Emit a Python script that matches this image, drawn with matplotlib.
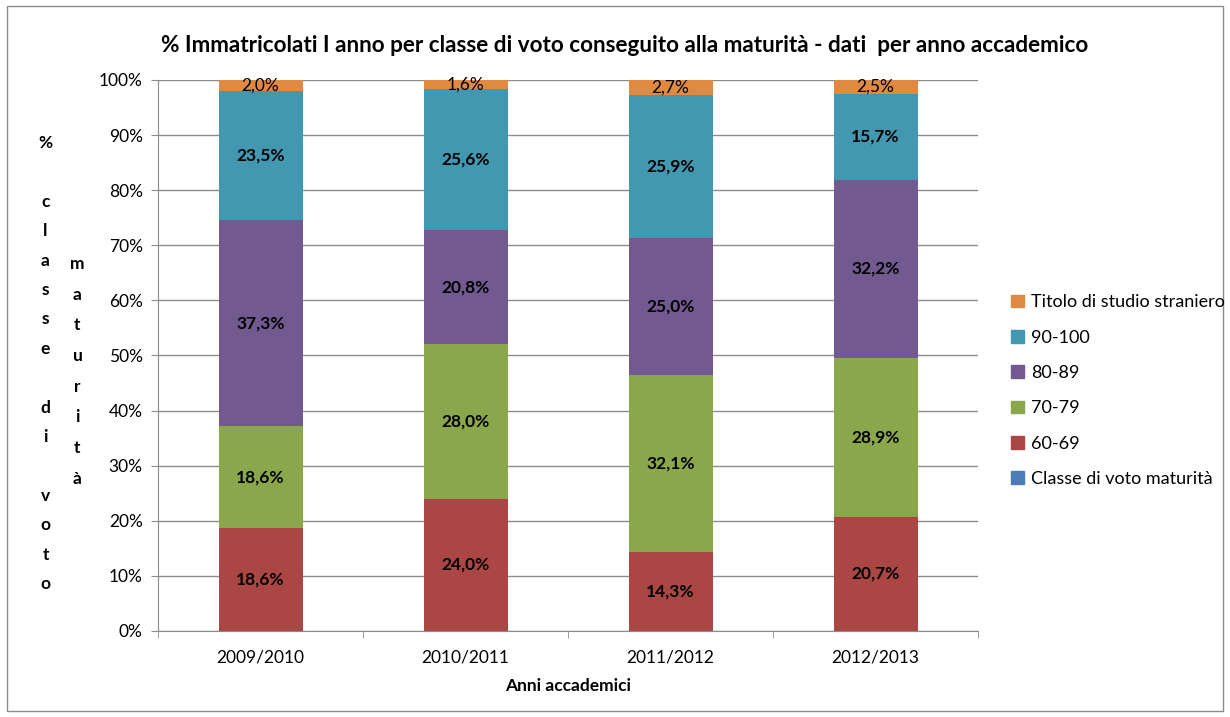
import matplotlib
matplotlib.use("Agg")
import matplotlib.pyplot as plt
import numpy as np
from matplotlib.patches import Rectangle, Patch

plt.rcParams['font.family'] = ['Lato', 'DejaVu Sans']

# data (percent)
anni = ["2009/2010", "2010/2011", "2011/2012", "2012/2013"]
classe_voto = [0, 0, 0, 0]
v60_69 = [18.6, 24.0, 14.3, 20.7]
v70_79 = [18.6, 28.0, 32.1, 28.9]
v80_89 = [37.3, 20.8, 25.0, 32.2]
v90_100 = [23.5, 25.6, 25.9, 15.7]
straniero = [2.0, 1.6, 2.7, 2.5]

series = [
    ("Classe di voto maturità", classe_voto, "#4A7DB8"),
    ("60-69", v60_69, "#AA4643"),
    ("70-79", v70_79, "#8AA84B"),
    ("80-89", v80_89, "#72598F"),
    ("90-100", v90_100, "#4298B0"),
    ("Titolo di studio straniero", straniero, "#DF8943"),
]

fig = plt.figure(figsize=(12.3, 7.17), dpi=100)
ax = fig.add_axes([0.1285, 0.12, 0.6667, 0.7685])

# outer chart border
fig.patches.append(Rectangle((0.006, 0.008), 0.988, 0.984, transform=fig.transFigure,
                             fill=False, edgecolor="#8c8c8c", linewidth=1.0))

x = np.arange(len(anni))
bottom = np.zeros(len(anni))
for name, vals, col in series:
    vals = np.array(vals, dtype=float)
    ax.bar(x, vals, 0.41, bottom=bottom, color=col, label=name, zorder=3)
    if name != "Classe di voto maturità":
        for xi, b, v in zip(x, bottom, vals):
            txt = f"{v:.1f}%".replace(".", ",")
            if name == "Titolo di studio straniero":
                ax.text(xi, b + v / 2, txt, ha="center", va="center", fontsize=12.5, zorder=4)
            else:
                ax.text(xi, b + v / 2, txt, ha="center", va="center", fontsize=12.5,
                        fontweight="bold", zorder=4)
    bottom += vals

ax.set_xlim(-0.5, len(anni) - 0.5)
ax.set_ylim(0, 100)
ax.set_yticks(np.arange(0, 101, 10))
ax.set_yticklabels([f"{v}%" for v in range(0, 101, 10)], fontsize=12.5)
ax.yaxis.grid(True, color="#8c8c8c", linewidth=1.0, zorder=0)
ax.set_axisbelow(True)

ax.set_xticks(x)
ax.set_xticklabels(anni, fontsize=12.5)
ax.set_xticks(np.arange(-0.5, len(anni)), minor=True)
ax.tick_params(axis="x", which="major", length=0, pad=13)
ax.tick_params(axis="x", which="minor", length=5, color="#8c8c8c")
ax.tick_params(axis="y", length=5, color="#8c8c8c", pad=6)

for s in ["top", "right"]:
    ax.spines[s].set_visible(False)
ax.spines["left"].set_color("#8c8c8c")
ax.spines["bottom"].set_color("#8c8c8c")

ax.set_xlabel("Anni accademici", fontsize=12.5, fontweight="bold", labelpad=9)
fig.text(0.508, 0.937, "% Immatricolati I anno per classe di voto conseguito alla maturità - dati  per anno accademico",
         ha="center", va="center", fontsize=16.2, fontweight="bold")

# stacked y label in two columns
col1 = "%\n \nc\nl\na\ns\ns\ne\n \nd\ni\n \nv\no\nt\no"
col2 = "m\na\nt\nu\nr\ni\nt\nà"
fig.text(0.037, 0.493, col1, ha="center", va="center", fontsize=12.5, fontweight="bold",
         linespacing=2.03)
fig.text(0.063, 0.482, col2, ha="center", va="center", fontsize=12.5, fontweight="bold",
         linespacing=2.13)

handles = [Patch(color=c, label=n) for n, _, c in series][::-1]
fig.legend(handles=handles, loc="center left", bbox_to_anchor=(0.809, 0.455), frameon=False,
           fontsize=13, labelspacing=1.07, handlelength=0.7, handleheight=0.7,
           handletextpad=0.4)

fig.savefig("out.png", dpi=100)
